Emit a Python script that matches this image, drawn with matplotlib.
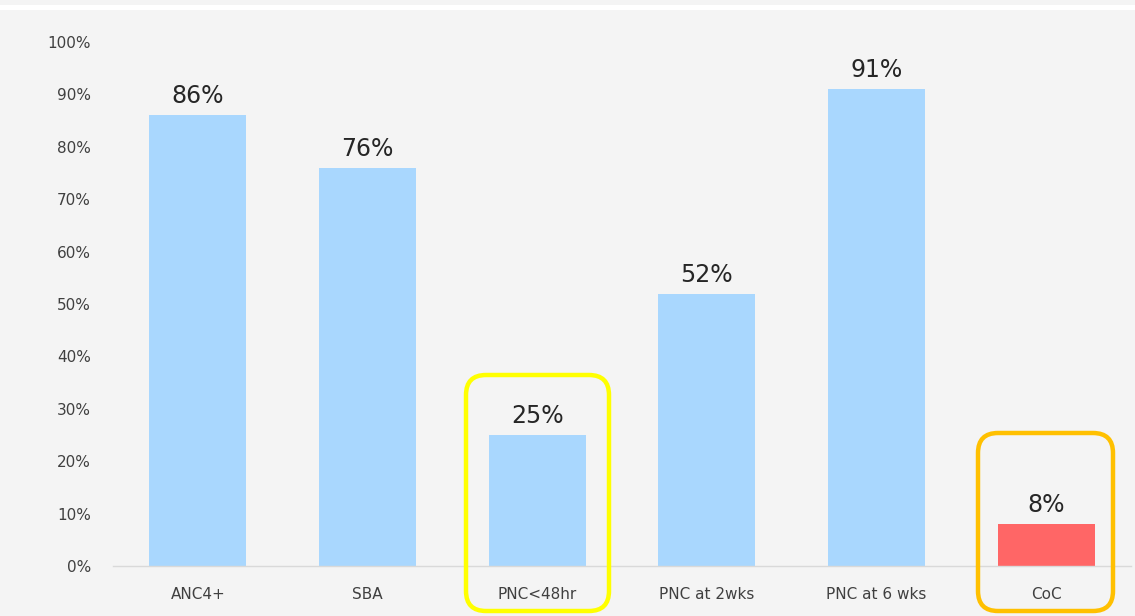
import matplotlib
matplotlib.use("Agg")
import matplotlib.pyplot as plt
from matplotlib.patches import FancyBboxPatch, Rectangle
from matplotlib.transforms import IdentityTransform
from matplotlib.ticker import PercentFormatter

categories = ["ANC4+", "SBA", "PNC<48hr", "PNC at 2wks", "PNC at 6 wks", "CoC"]
values = [86, 76, 25, 52, 91, 8]
bar_colors = ["#a9d7fe", "#a9d7fe", "#a9d7fe", "#a9d7fe", "#a9d7fe", "#ff6666"]
yticks = [0, 10, 20, 30, 40, 50, 60, 70, 80, 90, 100]

plt.rcParams['font.family'] = ['DejaVu Sans']

W, H = 1135, 616
fig = plt.figure(figsize=(W / 100, H / 100), dpi=100)
fig.patch.set_facecolor("#f4f4f4")

ax = fig.add_axes([113 / W, 50 / H, 1018 / W, 524 / H])
ax.set_facecolor("#f4f4f4")

x = list(range(len(categories)))
ax.bar(x, values, width=0.57, color=bar_colors, zorder=2)
for xi, v in zip(x, values):
    ax.annotate(f"{v}%", (xi, v), xytext=(0, 5), textcoords="offset points",
                ha="center", va="bottom", fontsize=17, color="#262626")

ax.set_xlim(-0.5, len(categories) - 0.5)
ax.set_ylim(0, 100)
ax.set_yticks(yticks)
ax.yaxis.set_major_formatter(PercentFormatter(decimals=0))
ax.set_xticks(x)
ax.set_xticklabels(categories)
ax.tick_params(axis="both", length=0, labelsize=11, colors="#404040")
ax.tick_params(axis="y", pad=16)
ax.tick_params(axis="x", pad=15)
for s in ["top", "right", "left"]:
    ax.spines[s].set_visible(False)
ax.spines["bottom"].set_color("#d9d9d9")
ax.spines["bottom"].set_linewidth(1.0)

# white band at top
fig.patches.append(Rectangle((0, H - 10), W, 5, transform=IdentityTransform(),
                             facecolor="white", edgecolor="none"))

def rbox(x0, x1, y0img, y1img, color):
    p = FancyBboxPatch((x0, H - y1img), x1 - x0, y1img - y0img,
                       boxstyle="round,pad=0,rounding_size=20",
                       transform=IdentityTransform(), facecolor="none",
                       edgecolor=color, linewidth=3.2, zorder=5)
    fig.patches.append(p)

rbox(466, 609, 375, 611, "#ffff00")
rbox(978, 1113, 433, 611, "#ffc000")

fig.savefig("out.png", dpi=100, facecolor=fig.get_facecolor())
